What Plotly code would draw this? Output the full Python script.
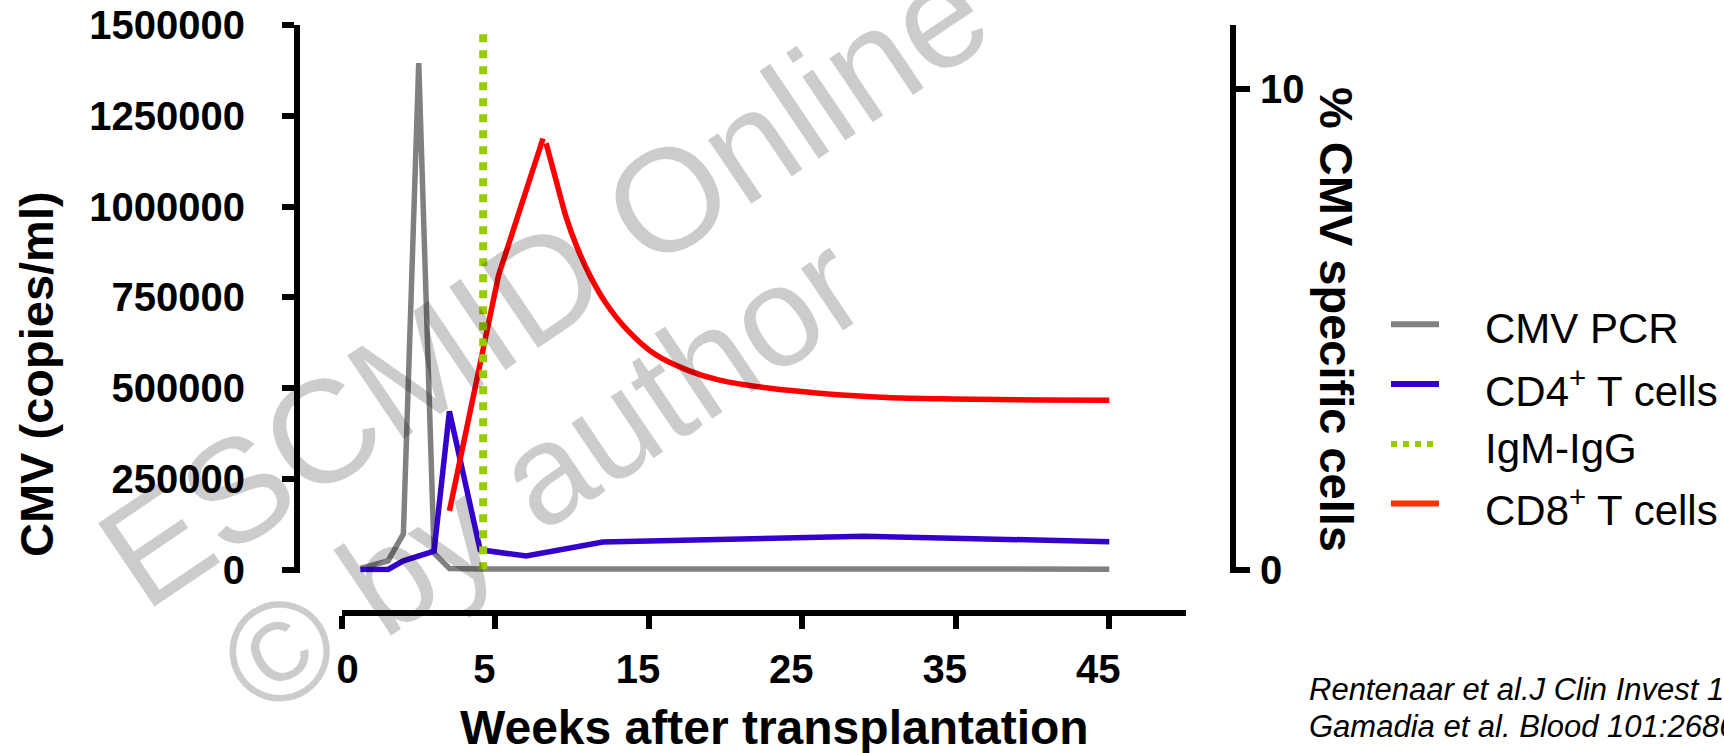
import plotly.graph_objects as go

W, H = 1724, 753

# ---------------- data ----------------
tick_weeks = [0, 5, 15, 25, 35, 45]
left_ticks = [0, 250000, 500000, 750000, 1000000, 1250000, 1500000]
right_ticks = [0, 10]

pcr_weeks = [0.6, 1.5, 2.0, 2.5, 3.0, 3.5, 4.5, 7.0, 29.0, 45.0]
pcr_copies = [3000, 24000, 98000, 1395000, 45000, 3000, 1500, 1500, 1000, 1000]

cd4_weeks = [0.6, 1.5, 2.0, 3.0, 3.5, 4.5, 7.0, 12.0, 29.0, 45.0]
cd4_pct = [0.0, 0.0, 0.18, 0.38, 3.29, 0.41, 0.28, 0.57, 0.69, 0.58]

cd8_weeks = [3.5, 4.6, 5.2, 8.1, 8.3, 9.0, 9.6, 10.3, 11.2, 12.2, 13.6, 15.3,
             17.5, 19.6, 22.9, 26.1, 30.5, 34.8, 40.5, 45.0]
cd8_pct = [1.22, 4.65, 6.12, 8.97, 8.87, 8.04, 7.34, 6.72, 6.09, 5.54, 4.98, 4.50,
           4.15, 3.94, 3.77, 3.67, 3.58, 3.55, 3.53, 3.52]
cd8_peak = 3  # index of the peak: straight rise before it, smooth decay after

igm_weeks = [4.6, 4.6]
igm_pct = [11.14, 0.0]

series_names = ["CMV PCR", "CD4<sup>+</sup> T cells", "IgM-IgG", "CD8<sup>+</sup> T cells"]
series_colors = ["#808080", "#3300cc", "#99cc00", "#ff0000"]
legend_colors = ["#808080", "#3300cc", "#99cc00", "#ff3300"]


def axis_pos(weeks):
    """Two-segment time axis: weeks 0-5 are drawn at double scale."""
    return [2 * w if w <= 5 else w + 5 for w in weeks]


FONT = "Liberation Sans, Arial, sans-serif"

# ---------------- geometry (pixels) ----------------
x0_px, x_end_px = 342, 1186          # x axis from t=0 to t=55
y0_px, ytop_px = 569.5, 25           # value 0 and 1.5e6 on the left axis
pad = 3                               # extend domain below 0 so lines are not clipped
left_per_px = 1500000 / (y0_px - ytop_px)
right_per_px = 10 / (y0_px - 89)

fig = go.Figure()

fig.add_trace(go.Scatter(x=axis_pos(pcr_weeks), y=pcr_copies, mode="lines",
                         name="CMV PCR", yaxis="y", showlegend=False,
                         line=dict(color=series_colors[0], width=5.5)))
fig.add_trace(go.Scatter(x=axis_pos(cd4_weeks), y=cd4_pct, mode="lines",
                         name="CD4+ T cells", yaxis="y2", showlegend=False,
                         line=dict(color=series_colors[1], width=5.5)))
fig.add_trace(go.Scatter(x=axis_pos(cd8_weeks[:cd8_peak + 1]), y=cd8_pct[:cd8_peak + 1],
                         mode="lines", name="CD8+ T cells", yaxis="y2", showlegend=False,
                         line=dict(color=series_colors[3], width=5.5)))
fig.add_trace(go.Scatter(x=axis_pos(cd8_weeks[cd8_peak + 1:]), y=cd8_pct[cd8_peak + 1:],
                         mode="lines", name="CD8+ T cells", yaxis="y2", showlegend=False,
                         line=dict(color=series_colors[3], width=5.5,
                                   shape="spline", smoothing=0.8)))
fig.add_trace(go.Scatter(x=axis_pos(igm_weeks), y=igm_pct, mode="lines",
                         name="IgM-IgG", yaxis="y2", showlegend=False,
                         line=dict(color=series_colors[2], width=8, dash="dot")))

dom_y = [(H - y0_px - pad) / H, (H - ytop_px) / H]

fig.update_layout(
    width=W, height=H, autosize=False,
    margin=dict(l=0, r=0, t=0, b=0, pad=0, autoexpand=False),
    paper_bgcolor="white", plot_bgcolor="white",
    showlegend=False,
    font=dict(family=FONT, color="black"),
    xaxis=dict(
        domain=[x0_px / W, x_end_px / W], range=[0, 55],
        anchor="free", position=(H - 613) / H,
        tickvals=axis_pos(tick_weeks),
        ticktext=[("\u00a0\u00a0\u00a0" + str(w)) if w == 0 else str(w) for w in tick_weeks],
        ticks="outside", ticklen=13, tickwidth=6, tickcolor="black",
        showline=True, linewidth=6, linecolor="black",
        showgrid=False, zeroline=False,
        tickfont=dict(family=FONT, size=40, weight="bold", color="black"),
        ticklabelshift=-11, ticklabelstandoff=6,
    ),
    yaxis=dict(
        domain=dom_y, range=[-pad * left_per_px, 1500000],
        anchor="free", position=297 / W,
        tickvals=left_ticks, ticktext=[str(v) for v in left_ticks],
        ticks="outside", ticklen=12, tickwidth=6, tickcolor="black",
        showline=True, linewidth=6, linecolor="black",
        showgrid=False, zeroline=False,
        tickfont=dict(family=FONT, size=40, weight="bold", color="black"),
        ticklabelstandoff=29,
    ),
    yaxis2=dict(
        domain=dom_y, range=[-pad * right_per_px, (y0_px - ytop_px) * right_per_px],
        overlaying="y", side="right", anchor="free", position=1233 / W,
        tickvals=right_ticks, ticktext=[str(v) for v in right_ticks],
        ticks="outside", ticklen=14, tickwidth=6, tickcolor="black",
        showline=True, linewidth=6, linecolor="black",
        showgrid=False, zeroline=False,
        tickfont=dict(family=FONT, size=40, weight="bold", color="black"),
        ticklabelstandoff=2,
    ),
)


def px(x):
    return x / W


def py(y):
    return 1 - y / H


annotations = [
    dict(text="<b>Weeks after transplantation</b>", x=px(774), y=py(727),
         font=dict(size=48)),
    dict(text="<b>CMV (copies/ml)</b>", x=px(36), y=py(374), textangle=-90,
         font=dict(size=47)),
    dict(text="<b>% CMV specific cells</b>", x=px(1337), y=py(319), textangle=90,
         font=dict(size=47)),
    dict(text="<i>Rentenaar et al.J Clin Invest 105:541</i>", x=px(1307), y=py(689),
         xanchor="left", font=dict(size=31)),
    dict(text="<i>Gamadia et al. Blood 101:2686</i>", x=px(1307), y=py(726),
         xanchor="left", font=dict(size=31)),
]

legend_y = [324.3, 384, 444, 503.5]
shapes = []
for name, col, ly in zip(series_names, legend_colors, legend_y):
    shapes.append(dict(type="line", xref="paper", yref="paper",
                       x0=px(1391), x1=px(1439), y0=py(ly), y1=py(ly),
                       line=dict(color=col, width=6,
                                 dash="dot" if name == "IgM-IgG" else "solid")))
    annotations.append(dict(text=name, x=px(1483), y=py(ly + 4), xanchor="left",
                            font=dict(size=42)))

# watermark
annotations.append(dict(text="ESCMID Online", x=px(543), y=py(283), textangle=-34,
                        font=dict(size=146, color="rgba(0,0,0,0.2)")))
annotations.append(dict(text="\u00a9 by author", x=px(541), y=py(474), textangle=-34,
                        font=dict(size=142, color="rgba(0,0,0,0.2)")))

for a in annotations:
    a.setdefault("xref", "paper")
    a.setdefault("yref", "paper")
    a.setdefault("showarrow", False)
    a.setdefault("xanchor", "center")
    a.setdefault("yanchor", "middle")
    f = a.setdefault("font", {})
    f.setdefault("family", FONT)
    f.setdefault("color", "black")

fig.update_layout(annotations=annotations, shapes=shapes)

fig.write_html("out.html")
